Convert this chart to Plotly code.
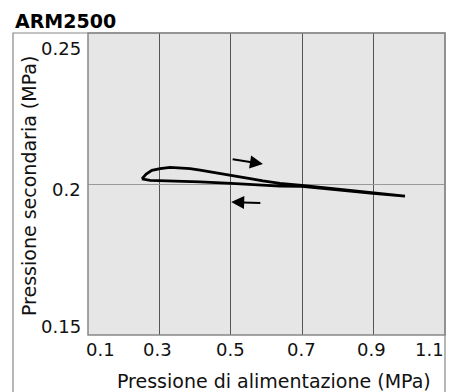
import plotly.graph_objects as go

# Secondary pressure vs. supply pressure, ARM2500 regulator (hysteresis loop)
supply_up = [0.251, 0.263, 0.279, 0.302, 0.330, 0.358, 0.386, 0.414, 0.456, 0.501,
             0.554, 0.590, 0.638, 0.699, 0.778, 0.898, 0.988]
secondary_up = [0.2017, 0.2033, 0.2045, 0.2051, 0.2055, 0.2054, 0.2051, 0.2046, 0.2038,
                0.2030, 0.2018, 0.2010, 0.2002, 0.1995, 0.1985, 0.1970, 0.1960]
supply_down = [0.988, 0.898, 0.778, 0.699, 0.638, 0.590, 0.501, 0.414, 0.330, 0.274, 0.251]
secondary_down = [0.1960, 0.1969, 0.1983, 0.1992, 0.1993, 0.1997, 0.2002, 0.2007,
                  0.2009, 0.2012, 0.2017]

x_ticks = [0.1, 0.3, 0.5, 0.7, 0.9, 1.1]
x_tick_labels = ["0.1", "0.3", "0.5", "0.7", "0.9", "1.1"]
y_ticks = [0.15, 0.2, 0.25]
y_tick_labels = ["0.15", "0.2", "0.25"]

# direction arrows: (tail x, tail y, head x, head y)
arrows = [(0.501, 0.2083, 0.590, 0.2066),
          (0.587, 0.1937, 0.501, 0.1940)]

W, H = 459, 392
L, R, T, B = 88, 14, 33, 57
PW, PH = W - L - R, H - T - B
FONT = "DejaVu Sans"


def px_x(px):
    return (px - L) / PW


def px_y(py):
    return (H - B - py) / PH


fig = go.Figure()
fig.add_trace(go.Scatter(
    x=supply_up + supply_down[1:],
    y=secondary_up + secondary_down[1:],
    mode="lines",
    line=dict(color="black", width=2.8),
    hoverinfo="skip",
    showlegend=False,
))

annotations = []
# tick labels, nudged to sit inside the frame like the printed chart
x_label_shift = [12, -2, 0, -1, -2, -16]
for v, t, s in zip(x_ticks, x_tick_labels, x_label_shift):
    annotations.append(dict(x=v, xref="x", y=0, yref="paper", text=t, showarrow=False,
                            xanchor="center", yanchor="middle", xshift=s, yshift=-14,
                            font=dict(family=FONT, size=18, color="#111")))
y_label_shift = [9, -5, -15]
for v, t, s in zip(y_ticks, y_tick_labels, y_label_shift):
    annotations.append(dict(x=0, xref="paper", y=v, yref="y", text=t, showarrow=False,
                            xanchor="right", yanchor="middle", xshift=-5, yshift=s,
                            font=dict(family=FONT, size=18, color="#111")))

for x0, y0, x1, y1 in arrows:
    annotations.append(dict(x=x1, y=y1, ax=x0, ay=y0, xref="x", yref="y", axref="x", ayref="y",
                            text="", showarrow=True, arrowhead=2, arrowsize=1.3,
                            arrowwidth=2, arrowcolor="black"))

annotations += [
    dict(x=px_x(13), y=1, xref="paper", yref="paper", text="<b>ARM2500</b>", showarrow=False,
         xanchor="left", yanchor="middle", yshift=12, font=dict(family=FONT, size=19, color="black")),
    dict(x=px_x(274), y=px_y(381), xref="paper", yref="paper",
         text="Pressione di alimentazione (MPa)", showarrow=False,
         xanchor="center", yanchor="middle", font=dict(family=FONT, size=19, color="#111")),
    dict(x=px_x(29), y=0.5, xref="paper", yref="paper",
         text="Pressione secondaria (MPa)", showarrow=False, textangle=-90,
         xanchor="center", yanchor="middle", yshift=-2, font=dict(family=FONT, size=19, color="#111")),
]

shapes = [
    dict(type="rect", xref="paper", yref="paper", x0=px_x(13), x1=1, y0=px_y(400), y1=1,
         line=dict(color="#888", width=1.2), fillcolor="rgba(0,0,0,0)", layer="below"),
    dict(type="rect", xref="paper", yref="paper", x0=0, x1=1, y0=0, y1=1,
         line=dict(color="#888", width=1.5), fillcolor="rgba(0,0,0,0)"),
]

fig.update_layout(
    width=W, height=H,
    margin=dict(l=L, r=R, t=T, b=B),
    paper_bgcolor="white",
    plot_bgcolor="#e6e6e6",
    annotations=annotations,
    shapes=shapes,
    xaxis=dict(range=[0.1, 1.1], tickvals=[0.3, 0.5, 0.7, 0.9], showticklabels=False,
               showgrid=True, gridcolor="#555", gridwidth=1.2, zeroline=False,
               showline=False, ticks=""),
    yaxis=dict(range=[0.15, 0.25], tickvals=[0.2], showticklabels=False,
               showgrid=True, gridcolor="#9a9a9a", gridwidth=1.2, zeroline=False,
               showline=False, ticks=""),
)

fig.write_html("out.html")
